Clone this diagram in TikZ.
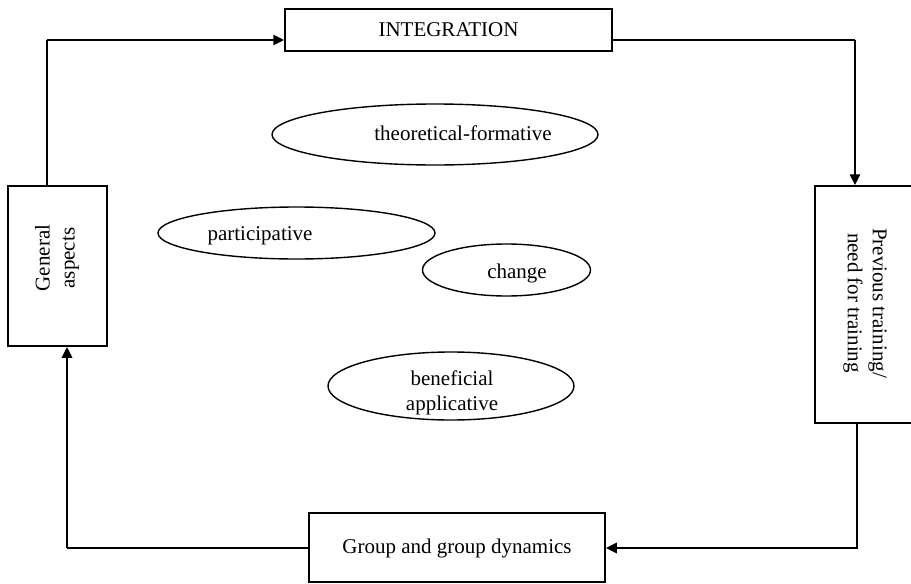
\documentclass[tikz,border=0pt]{standalone}
\usepackage{fontspec}
\setmainfont{Liberation Serif}
\usetikzlibrary{shapes.geometric,arrows.meta,calc}
\begin{document}
\begin{tikzpicture}[x=1pt,y=-1pt,
  font=\fontsize{21}{25}\selectfont,
  box/.style={draw, line width=1.5pt, rectangle, inner sep=0pt},
  ell/.style={draw, line width=1.4pt, ellipse, inner sep=0pt},
  lbl/.style={inner sep=0pt, align=center},
  thinln/.style={line width=1.5pt},
  thickln/.style={line width=2.8pt},
  tip/.style={-{Triangle[length=11pt,width=10pt]}}]
\useasboundingbox (0,0) rectangle (911,584);
% boxes
\node[box, minimum width=327pt, minimum height=42pt] (T) at (448.5,30) {INTEGRATION};
\node[box, minimum width=99pt, minimum height=160pt] (L) at (57.5,266) {};
\node[lbl, rotate=90] (Lt) at (57,258) {General\\aspects};
\node[box, minimum width=100pt, minimum height=237pt] (R) at (865,304.5) {};
\node[lbl, rotate=-90] (Rt) at (865,303) {Previous training/\\need for training};
\node[box, minimum width=296pt, minimum height=69pt] (B) at (457,547.5) {};
\node[lbl] (Bt) at (457,548) {Group and group dynamics};
% ellipses
\node[ell, minimum width=326pt, minimum height=61pt] (E1) at (435,134.5) {};
\node[lbl] (E1t) at (463,133) {theoretical-formative};
\node[ell, minimum width=277pt, minimum height=52pt] (E2) at (296.5,233) {};
\node[lbl] (E2t) at (260,236) {participative};
\node[ell, minimum width=168pt, minimum height=52pt] (E3) at (506.5,270) {};
\node[lbl] (E3t) at (517,273) {change};
\node[ell, minimum width=246pt, minimum height=68pt] (E4) at (451,386) {};
\node[lbl] (E4t) at (452,393) {beneficial\\applicative};
% corner coordinates
\coordinate (k1) at (47,40);
\coordinate (k2) at (855,40);
\coordinate (k3) at (857,548);
\coordinate (k4) at (67,548);
% connectors
\draw[thinln] (L.north -| k1) -- (k1);
\draw[thickln, tip] (k1) -- (T.west |- k1);
\draw[thinln] (T.east |- k2) -- (k2);
\draw[thickln, tip] (k2) -- (R.north -| k2);
\draw[thickln, tip] (R.south -| k3) -- (k3) -- (B.east |- k3);
\draw[thinln] (B.west |- k4) -- (k4);
\draw[thickln, tip] (k4) -- (L.south -| k4);
\end{tikzpicture}
\end{document}
